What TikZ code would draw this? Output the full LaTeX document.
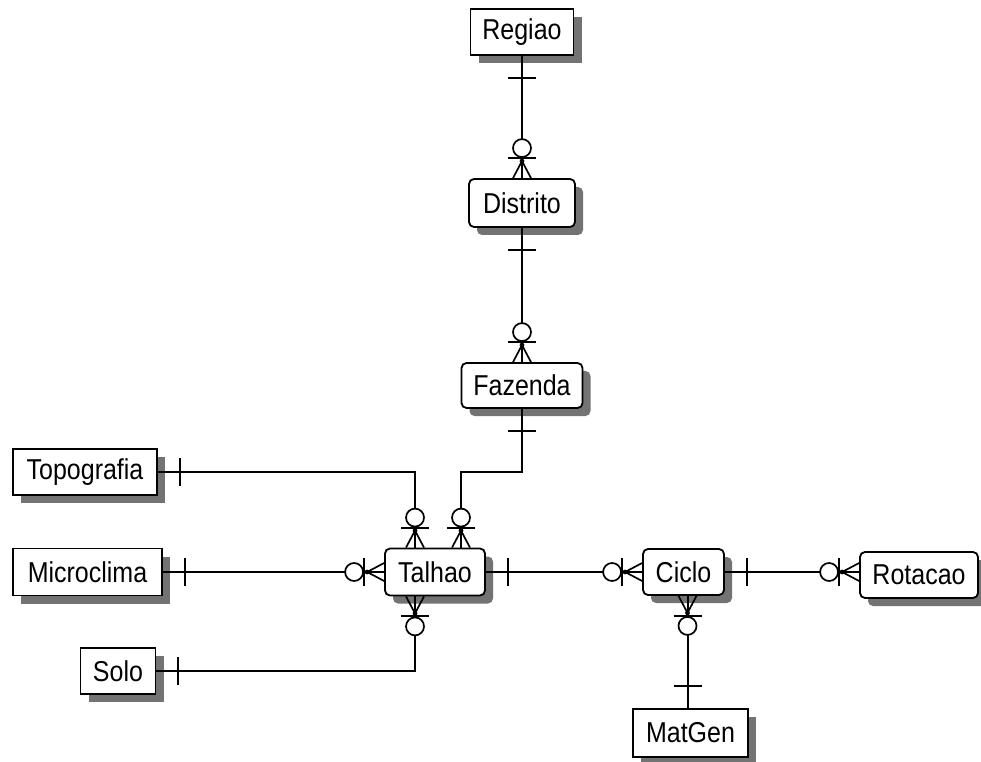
\documentclass[tikz,border=0pt]{standalone}
\usepackage{fontspec}
\usepackage{graphicx}
\setmainfont{Liberation Sans}
\usetikzlibrary{shadows,calc}
\newcommand{\etxt}[1]{\scalebox{1}[1.15]{#1}}
\tikzset{
  ent/.style={draw, line width=1.8pt, fill=white, inner sep=0pt,
    font=\fontsize{25}{29}\selectfont,
    general shadow={shadow xshift=8pt, shadow yshift=-8pt, fill=black!55}},
  dep/.style={ent, rounded corners=5pt},
  conn/.style={line width=2pt},
  onemark/.pic={\draw[conn] (22pt,-14pt) -- (22pt,14pt);},
  zmany/.pic={
    \draw[line width=1.7pt] (0pt,9pt) -- (17pt,0pt) -- (0pt,-9pt);
    \draw[conn] (0pt,0pt) -- (20pt,0pt);
    \fill (17pt,0pt) circle (2.4pt);
    \draw[conn] (20pt,-14pt) -- (20pt,14pt);
    \draw[line width=1.7pt, fill=white] (30pt,0pt) circle (9pt);}
}
\begin{document}
\begin{tikzpicture}[x=1pt,y=1pt]
\useasboundingbox (0,0) rectangle (981,761);
% entities
\node[ent, minimum width=103pt, minimum height=46pt] (regiao) at (522,729) {\etxt{Regiao}};
\node[dep, minimum width=106pt, minimum height=48pt] (distrito) at (522,558) {\etxt{Distrito}};
\node[dep, minimum width=121pt, minimum height=45pt] (fazenda) at (522,375.5) {\etxt{Fazenda}};
\node[dep, minimum width=100pt, minimum height=47pt] (talhao) at (435,189) {\etxt{Talhao}};
\node[ent, minimum width=144pt, minimum height=46pt] (topografia) at (85,289) {\etxt{Topografia}};
\node[ent, minimum width=149pt, minimum height=47pt] (microclima) at (87.5,189) {\etxt{Microclima}};
\node[ent, minimum width=75pt, minimum height=46pt] (solo) at (118,90) {\etxt{Solo}};
\node[dep, minimum width=81pt, minimum height=46pt] (ciclo) at (683.5,189) {\etxt{Ciclo}};
\node[dep, minimum width=118pt, minimum height=46pt] (rotacao) at (919,186) {\etxt{Rotacao}};
\node[ent, minimum width=115pt, minimum height=48pt] (matgen) at (690.5,28) {\etxt{MatGen}};
% anchor points
\coordinate (tN1) at ([xshift=-20pt]talhao.north);
\coordinate (tN2) at ([xshift=26pt]talhao.north);
\coordinate (tS1) at ([xshift=-20pt]talhao.south);
\coordinate (tW) at (talhao.west |- microclima.east);
\coordinate (cS) at ([xshift=4pt]ciclo.south);
\coordinate (rW) at (rotacao.west |- ciclo.east);
\coordinate (mN) at (matgen.north -| cS);
% connectors
\draw[conn] (regiao.south) -- (distrito.north);
\draw[conn] (distrito.south) -- (fazenda.north);
\draw[conn] (fazenda.south) |- (topografia.east -| tN2) -- (tN2);
\draw[conn] (topografia.east) -| (tN1);
\draw[conn] (microclima.east) -- (tW);
\draw[conn] (solo.east) -| (tS1);
\draw[conn] (talhao.east) -- (ciclo.west);
\draw[conn] (ciclo.east) -- (rW);
\draw[conn] (cS) -- (mN);
% cardinality marks
\pic[rotate=-90] at (regiao.south) {onemark};
\pic[rotate=90] at (distrito.north) {zmany};
\pic[rotate=-90] at (distrito.south) {onemark};
\pic[rotate=90] at (fazenda.north) {zmany};
\pic[rotate=-90] at (fazenda.south) {onemark};
\pic[rotate=90] at (tN1) {zmany};
\pic[rotate=90] at (tN2) {zmany};
\pic at (topografia.east) {onemark};
\pic at (microclima.east) {onemark};
\pic[rotate=180] at (tW) {zmany};
\pic at (solo.east) {onemark};
\pic[rotate=-90] at (tS1) {zmany};
\pic at (talhao.east) {onemark};
\pic[rotate=180] at (ciclo.west) {zmany};
\pic at (ciclo.east) {onemark};
\pic[rotate=180] at (rW) {zmany};
\pic[rotate=-90] at (cS) {zmany};
\pic[rotate=90] at (mN) {onemark};
\end{tikzpicture}
\end{document}
